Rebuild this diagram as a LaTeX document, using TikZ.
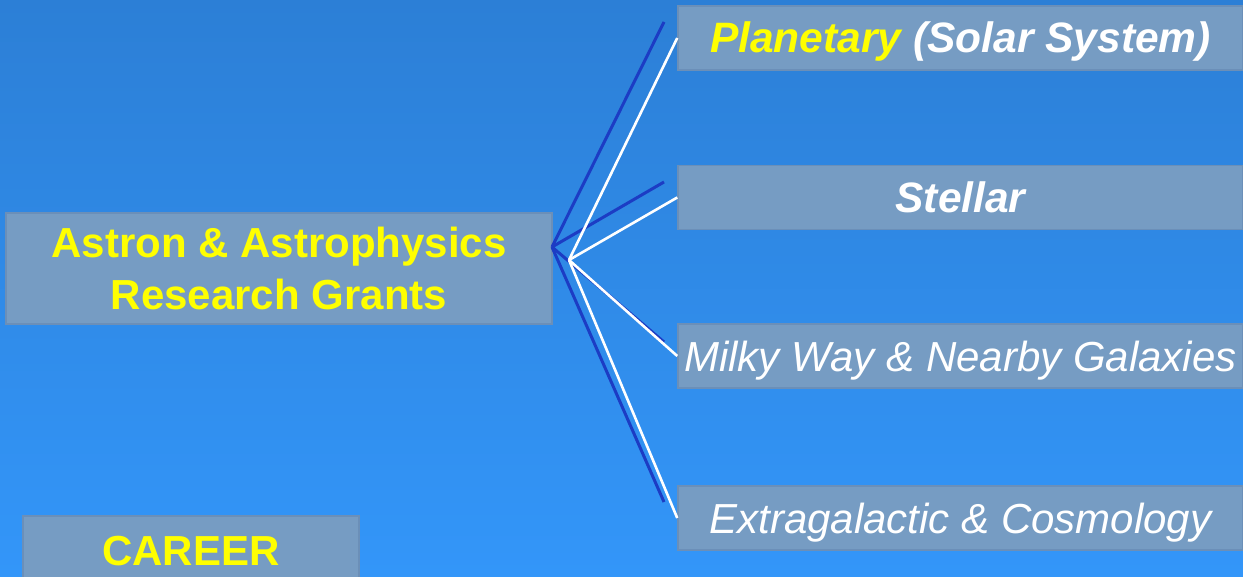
\documentclass[tikz,border=0pt]{standalone}
\usepackage{fontspec}
\setmainfont{Liberation Sans}
\definecolor{bgtop}{HTML}{2C7FD6}
\definecolor{bgbot}{HTML}{3396F9}
\definecolor{boxfill}{HTML}{769CC3}
\definecolor{boxedge}{HTML}{6B8FB8}
\definecolor{darkline}{HTML}{1C3CC4}
\definecolor{hl}{HTML}{FFFF00}
\begin{document}
\begin{tikzpicture}[x=1bp,y=-1bp,
  panel/.style={fill=boxfill, draw=boxedge, line width=1.5bp, inner sep=0pt},
  bigfont/.style={font=\fontsize{42bp}{52bp}\selectfont\bfseries},
  rightbox/.style={panel, minimum width=565bp, minimum height=64bp, text height=30bp, text depth=0bp, text=white},
  bolditalic/.style={font=\fontsize{42.5bp}{50bp}\selectfont\bfseries\itshape},
  plainitalic/.style={font=\fontsize{42bp}{50bp}\selectfont\itshape},
  darkconn/.style={draw=darkline, line width=3bp},
  whiteconn/.style={draw=white, line width=2.6bp}]
\useasboundingbox (0,0) rectangle (1243,577);
\clip (0,0) rectangle (1243,577);
\shade[top color=bgtop, bottom color=bgbot] (0,0) rectangle (1243,577);

\node[panel, bigfont, minimum width=546bp, minimum height=111bp, align=center, text=hl] (main) at (279,268.5) {Astron \& Astrophysics\\Research Grants};
\node[panel, bigfont, minimum width=336bp, minimum height=68bp, text height=30bp, text depth=0bp, text=hl] (career) at (191,550) {CAREER};

\node[rightbox, bolditalic] (plan) at (960.5,38) {{\color{hl}Planetary} (Solar System)};
\node[rightbox, bolditalic] (stel) at (960.5,197.5) {Stellar};
\node[rightbox, plainitalic] (milk) at (960.5,356) {Milky Way \& Nearby Galaxies};
\node[rightbox, plainitalic] (extr) at (960.5,518) {Extragalactic \& Cosmology};

\coordinate (dstart) at (552,247);
\coordinate (hub) at (569,260);
\coordinate (d1) at (664,22);
\coordinate (d2) at (664,182);
\coordinate (d3) at (664,342);
\coordinate (d4) at (664,502);

\draw[darkconn] (dstart) -- (d1);
\draw[darkconn] (dstart) -- (d2);
\draw[darkconn] (dstart) -- (d3);
\draw[darkconn] (dstart) -- (d4);

\draw[whiteconn] (hub) -- (plan.west);
\draw[whiteconn] (hub) -- (stel.west);
\draw[whiteconn] (hub) -- (milk.west);
\draw[whiteconn] (hub) -- (extr.west);
\end{tikzpicture}
\end{document}
